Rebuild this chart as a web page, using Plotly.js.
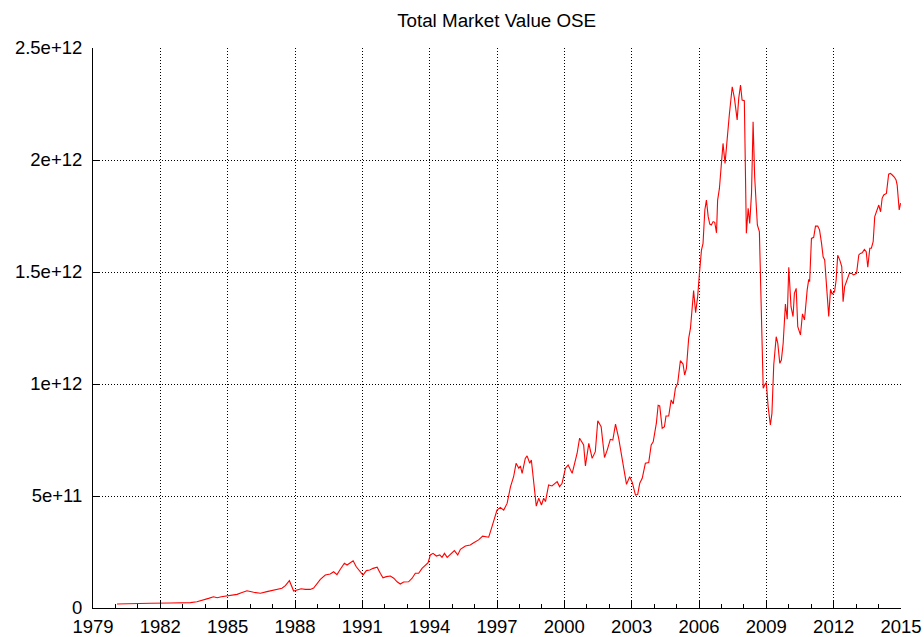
<!DOCTYPE html>
<html>
<head>
<meta charset="utf-8">
<script src="https://cdn.plot.ly/plotly-3.0.1.min.js"></script>
<style>
  html, body { margin: 0; padding: 0; background: #fff; }
  #viz-market-value { width: 924px; height: 637px; }
</style>
</head>
<body>
<div id="viz-market-value"></div>
<script>
// decimal years
const years = [
  1980.07, 1980.66, 1981.55, 1982.44, 1982.97, 1983.34, 1983.63, 1983.96, 1984.15, 1984.37,
  1984.53, 1984.72, 1984.97, 1985.16, 1985.42, 1985.61, 1985.86, 1986.16, 1986.46, 1986.75,
  1987.05, 1987.42, 1987.57, 1987.75, 1987.94, 1988.09, 1988.27, 1988.46, 1988.68, 1988.83,
  1988.98, 1989.13, 1989.35, 1989.57, 1989.72, 1989.87, 1990.02, 1990.20, 1990.32, 1990.47,
  1990.59, 1990.73, 1990.91, 1991.03, 1991.18, 1991.33, 1991.48, 1991.66, 1991.80, 1991.92,
  1992.07, 1992.25, 1992.40, 1992.55, 1992.69, 1992.84, 1993.06, 1993.22, 1993.36, 1993.51,
  1993.66, 1993.81, 1993.93, 1994.03, 1994.15, 1994.30, 1994.45, 1994.55, 1994.66, 1994.78,
  1995.00, 1995.10, 1995.25, 1995.37, 1995.59, 1995.81, 1995.96, 1996.18, 1996.36, 1996.48,
  1996.63, 1996.74, 1996.88, 1997.00, 1997.15, 1997.30, 1997.45, 1997.60, 1997.74, 1997.85,
  1997.97, 1998.04, 1998.12, 1998.26, 1998.34, 1998.46, 1998.53, 1998.63, 1998.75, 1998.86,
  1998.98, 1999.08, 1999.16, 1999.30, 1999.45, 1999.68, 1999.79, 1999.90, 2000.05, 2000.17,
  2000.35, 2000.57, 2000.68, 2000.86, 2000.94, 2001.09, 2001.24, 2001.38, 2001.49, 2001.64,
  2001.79, 2001.91, 2002.05, 2002.16, 2002.28, 2002.42, 2002.62, 2002.77, 2002.91, 2003.03,
  2003.17, 2003.27, 2003.36, 2003.47, 2003.61, 2003.76, 2003.87, 2003.96, 2004.10, 2004.18,
  2004.25, 2004.36, 2004.46, 2004.53, 2004.65, 2004.76, 2004.85, 2004.95, 2005.05, 2005.17,
  2005.29, 2005.36, 2005.44, 2005.54, 2005.62, 2005.72, 2005.76, 2005.85, 2005.94, 2006.02,
  2006.11, 2006.18, 2006.26, 2006.33, 2006.41, 2006.48, 2006.55, 2006.63, 2006.70, 2006.78,
  2006.83, 2006.91, 2006.99, 2007.07, 2007.16, 2007.25, 2007.35, 2007.48, 2007.58, 2007.70,
  2007.77, 2007.85, 2007.92, 2008.02, 2008.11, 2008.19, 2008.26, 2008.34, 2008.41, 2008.48,
  2008.56, 2008.60, 2008.69, 2008.77, 2008.86, 2008.93, 2009.00, 2009.08, 2009.18, 2009.25,
  2009.33, 2009.44, 2009.51, 2009.60, 2009.67, 2009.75, 2009.85, 2009.93, 2010.00, 2010.10,
  2010.19, 2010.25, 2010.33, 2010.40, 2010.52, 2010.61, 2010.70, 2010.82, 2010.89, 2010.93,
  2011.01, 2011.11, 2011.19, 2011.29, 2011.37, 2011.46, 2011.53, 2011.60, 2011.68, 2011.78,
  2011.86, 2011.93, 2012.04, 2012.11, 2012.18, 2012.27, 2012.36, 2012.42, 2012.49, 2012.60,
  2012.70, 2012.79, 2012.89, 2013.02, 2013.12, 2013.19, 2013.27, 2013.37, 2013.45, 2013.52,
  2013.61, 2013.68, 2013.76, 2013.83, 2013.94, 2014.01, 2014.09, 2014.16, 2014.23, 2014.35,
  2014.45, 2014.53, 2014.61, 2014.71, 2014.78, 2014.83, 2014.92, 2014.98,
];

// total market value, billions
const marketValueBn = [
  18, 20, 21, 22, 22, 24, 28, 36, 43, 50,
  46, 50, 54, 56, 61, 68, 77, 70, 66, 73,
  80, 88, 100, 122, 76, 80, 86, 83, 83, 89,
  110, 128, 147, 152, 162, 149, 173, 200, 192, 202,
  211, 184, 162, 147, 167, 170, 177, 182, 155, 135,
  140, 143, 133, 117, 107, 116, 117, 133, 155, 155,
  177, 192, 202, 237, 244, 232, 237, 226, 244, 226,
  244, 256, 237, 262, 277, 281, 291, 304, 321, 318,
  316, 351, 400, 437, 449, 437, 467, 541, 586, 646,
  624, 634, 601, 668, 679, 646, 661, 571, 455, 490,
  460, 490, 475, 549, 545, 564, 542, 557, 624, 638,
  601, 691, 758, 728, 634, 735, 668, 698, 836, 809,
  672, 705, 753, 750, 821, 758, 638, 552, 586, 560,
  504, 507, 557, 579, 646, 649, 728, 742, 825, 905,
  902, 802, 809, 857, 857, 929, 911, 981, 1003, 1104,
  1089, 1040, 1070, 1204, 1249, 1375, 1417, 1318, 1390, 1494,
  1598, 1628, 1777, 1821, 1747, 1714, 1710, 1725, 1722, 1675,
  1821, 1873, 1985, 2074, 1985, 2104, 2201, 2327, 2275, 2179,
  2275, 2335, 2268, 2265, 1673, 1784, 1717, 1851, 2171, 1925,
  1792, 1710, 1680, 1330, 981, 996, 1006, 899, 817, 869,
  1085, 1211, 1182, 1092, 1107, 1182, 1357, 1289, 1521, 1345,
  1301, 1405, 1427, 1256, 1219, 1313, 1286, 1420, 1467, 1457,
  1650, 1655, 1705, 1705, 1688, 1628, 1568, 1554, 1450, 1301,
  1423, 1402, 1412, 1464, 1575, 1554, 1524, 1367, 1435, 1464,
  1494, 1494, 1487, 1494, 1576, 1583, 1586, 1601, 1591, 1521,
  1606, 1606, 1635, 1747, 1777, 1799, 1769, 1829, 1844, 1851,
  1937, 1940, 1933, 1923, 1911, 1888, 1777, 1807,
];

const yTickVals = [0, 500, 1000, 1500, 2000, 2500];
const yTickText = ['0', '5e+11', '1e+12', '1.5e+12', '2e+12', '2.5e+12'];

function renderMarketValue() {
  const container = document.getElementById('viz-market-value');
  const FONT = 'Liberation Sans, Arial, sans-serif';

  const traces = [
    {
      x: years,
      y: marketValueBn,
      type: 'scatter',
      mode: 'lines',
      line: { color: '#ff0000', width: 1.1 },
      hoverinfo: 'skip',
    },
  ];

  const layout = {
    title: {
      text: 'Total Market Value OSE',
      font: { family: FONT, size: 18.8, color: '#000' },
      x: 0.5375,
      xanchor: 'center',
      y: 0.968,
      yanchor: 'middle',
    },
    showlegend: false,
    margin: { l: 93, r: 23, t: 48, b: 29 },
    xaxis: {
      range: [1979, 2015],
      tickmode: 'linear',
      tick0: 1979,
      dtick: 3,
      ticks: 'inside',
      ticklen: 8,
      tickcolor: '#000',
      tickfont: { family: FONT, size: 18.5, color: '#000' },
      ticklabelstandoff: 2,
      showline: true,
      linecolor: '#000',
      linewidth: 1,
      showgrid: true,
      gridcolor: '#000',
      griddash: '1px,2px',
      gridwidth: 1,
      zeroline: false,
      minor: { ticks: 'inside', dtick: 1, ticklen: 4, tickcolor: '#000', showgrid: false },
    },
    yaxis: {
      range: [0, 2500],
      tickmode: 'array',
      tickvals: yTickVals,
      ticktext: yTickText,
      ticks: 'inside',
      ticklen: 7,
      tickcolor: '#000',
      tickfont: { family: FONT, size: 18.5, color: '#000' },
      ticklabelstandoff: 6,
      showline: true,
      linecolor: '#000',
      linewidth: 1,
      showgrid: true,
      gridcolor: '#000',
      griddash: '1px,2px',
      gridwidth: 1,
      zeroline: false,
    },
    plot_bgcolor: '#fff',
    paper_bgcolor: '#fff',
    width: 924,
    height: 637,
  };

  Plotly.newPlot(container, traces, layout, { displayModeBar: false, staticPlot: true });
}

renderMarketValue();
</script>
</body>
</html>
